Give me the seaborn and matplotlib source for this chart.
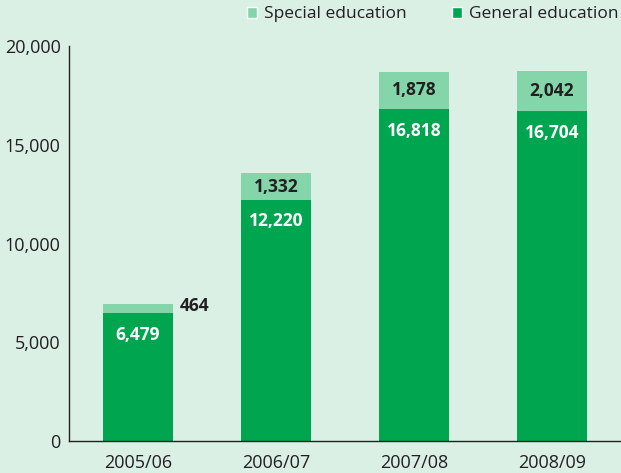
import matplotlib
matplotlib.use("Agg")
import matplotlib.pyplot as plt
import seaborn as sns
import pandas as pd
from matplotlib.patches import Patch

years = ["2005/06", "2006/07", "2007/08", "2008/09"]
general = [6479, 12220, 16818, 16704]
special = [464, 1332, 1878, 2042]

BG = "#daf0e4"
DARK = "#00a64f"
LIGHT = "#84d5a9"
INK = "#231f20"

sns.set_theme(style="white")
plt.rcParams["font.family"] = ["Open Sans", "DejaVu Sans"]

df = pd.DataFrame({"year": years, "general": general, "special": special})
df["total"] = df["general"] + df["special"]

fig = plt.figure(figsize=(6.21, 4.73), dpi=100, facecolor=BG)
ax = fig.add_axes([69 / 621, 32 / 473, 552 / 621, 395 / 473])
ax.set_facecolor(BG)

sns.barplot(data=df, x="year", y="total", color=LIGHT, width=0.51,
            saturation=1, linewidth=0, ax=ax)
sns.barplot(data=df, x="year", y="general", color=DARK, width=0.51,
            saturation=1, linewidth=0, ax=ax)

ax.set_xlim(-0.5, 3.5)
ax.set_ylim(0, 20000)
ax.set_yticks([0, 5000, 10000, 15000, 20000])
ax.set_yticklabels([f"{v:,}" for v in [0, 5000, 10000, 15000, 20000]])
ax.set_xlabel("")
ax.set_ylabel("")
ax.tick_params(axis="both", length=0, labelsize=13, colors=INK, pad=6)
ax.tick_params(axis="x", pad=9)
for s in ["top", "right"]:
    ax.spines[s].set_visible(False)
for s in ["left", "bottom"]:
    ax.spines[s].set_color(INK)
    ax.spines[s].set_linewidth(1.0)

for i, (g, s) in enumerate(zip(general, special)):
    ax.text(i, g - 650, f"{g:,}", ha="center", va="top", color="white",
            fontsize=12.5, fontweight="bold")
    if s > 1000:
        ax.text(i, g + s / 2, f"{s:,}", ha="center", va="center", color=INK,
                fontsize=12.5, fontweight="bold")
    else:
        ax.text(i + 0.3, g + s - 100, f"{s:,}", ha="left", va="center",
                color=INK, fontsize=12.5, fontweight="bold")

handles = [Patch(facecolor=LIGHT, label="Special education"),
           Patch(facecolor=DARK, label="General education")]
fig.legend(handles=handles, loc="upper right", bbox_to_anchor=(1.01, 1.005),
           ncol=2, frameon=False, fontsize=12.5, handlelength=0.6,
           handleheight=0.6, handletextpad=0.4, columnspacing=2.6,
           borderaxespad=0.1, labelcolor=INK)

fig.savefig("out.png", dpi=100, facecolor=BG)
